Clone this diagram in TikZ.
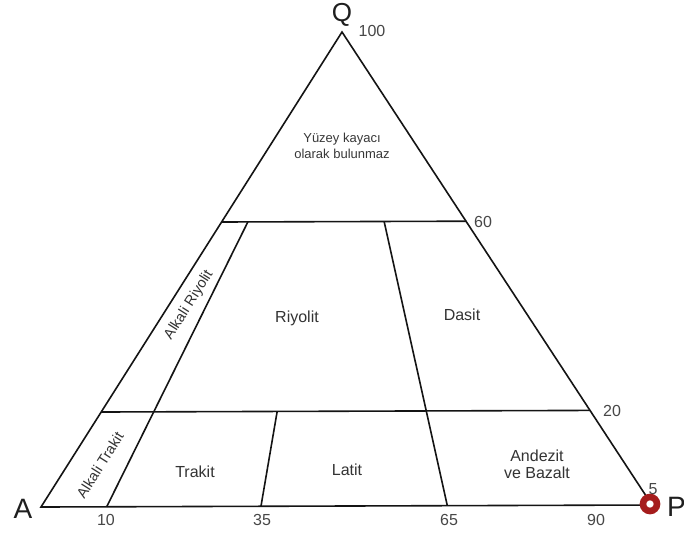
\documentclass[tikz,border=0pt]{standalone}
\usepackage{fontspec}
\setmainfont{Liberation Sans}
\usetikzlibrary{calc}
\definecolor{ringred}{RGB}{165,28,28}
\begin{document}
\begin{tikzpicture}[x=1pt,y=-1pt,
  edge/.style={line width=1.6pt, black!92},
  region/.style={font=\fontsize{16}{17}\selectfont, text=black!80, inner sep=0pt, align=center},
  toptext/.style={font=\fontsize{13}{16}\selectfont, text=black!78, inner sep=0pt, align=center},
  tick/.style={font=\fontsize{16}{17}\selectfont, text=black!72, inner sep=0pt},
  corner/.style={font=\fontsize{28}{30}\selectfont, text=black!88, inner sep=0pt},
  slanted/.style={region, rotate=57.6, font=\fontsize{14.5}{16}\selectfont}]
\useasboundingbox (0,0) rectangle (684,536);
\fill[white] (0,0) rectangle (684,536);
% vertices
\coordinate (A) at (41,507);
\coordinate (P) at (652,505);
\coordinate (Q) at (342,32);
% points on the sides
\coordinate (L20) at ($(A)!0.2!(Q)$);
\coordinate (L60) at ($(A)!0.6!(Q)$);
\coordinate (R20) at ($(P)!0.2!(Q)$);
\coordinate (R60) at ($(P)!0.6!(Q)$);
% points on the base
\coordinate (B10) at ($(A)!0.1075!(P)$);
\coordinate (B35) at ($(A)!0.3600!(P)$);
\coordinate (B65) at ($(A)!0.6650!(P)$);
\coordinate (T10) at ($(B10)!0.6!(Q)$);
\coordinate (T35) at ($(B35)!0.2!(Q)$);
\coordinate (T65) at ($(B65)!0.6!(Q)$);
% triangle
\draw[edge, line join=miter] (A) -- (Q) -- (P) -- cycle;
% horizontal lines
\draw[edge] (L60) -- (R60);
\draw[edge] (L20) -- (R20);
% lines toward Q
\draw[edge] (B10) -- (T10);
\draw[edge] (B35) -- (T35);
\draw[edge] (B65) -- (T65);
% corner marker
\node[circle, draw=ringred, fill=white, line width=6.6pt, minimum size=14pt, inner sep=0pt] (pmark) at (650,504) {};
% corner letters
\node[corner] (lA) at (23,509) {A};
\node[corner, anchor=west] (lP) at (667,507) {P};
\node[corner, font=\fontsize{26}{30}\selectfont] (lQ) at (342,15) {Q};
% scale numbers
\node[tick] (n100) at (372,31) {100};
\node[tick] (n60) at (483,222) {60};
\node[tick] (n20) at (612,411) {20};
\node[tick] (n5) at (653,489) {5};
\node[tick] (n10) at (106,520) {10};
\node[tick] (n35) at (262,520) {35};
\node[tick] (n65) at (449,520) {65};
\node[tick] (n90) at (596,520) {90};
% field labels
\node[toptext] (yuz) at (342,146) {Yüzey kayacı\\olarak bulunmaz};
\node[region] (riy) at (297,318) {Riyolit};
\node[region] (das) at (462,315) {Dasit};
\node[region] (tra) at (195,472) {Trakit};
\node[region] (lat) at (347,470) {Latit};
\node[region] (and) at (537,464) {Andezit\\ve Bazalt};
\node[slanted] (akr) at (189,305) {Alkali Riyolit};
\node[slanted] (akt) at (100,465) {Alkali Trakit};
\end{tikzpicture}
\end{document}
